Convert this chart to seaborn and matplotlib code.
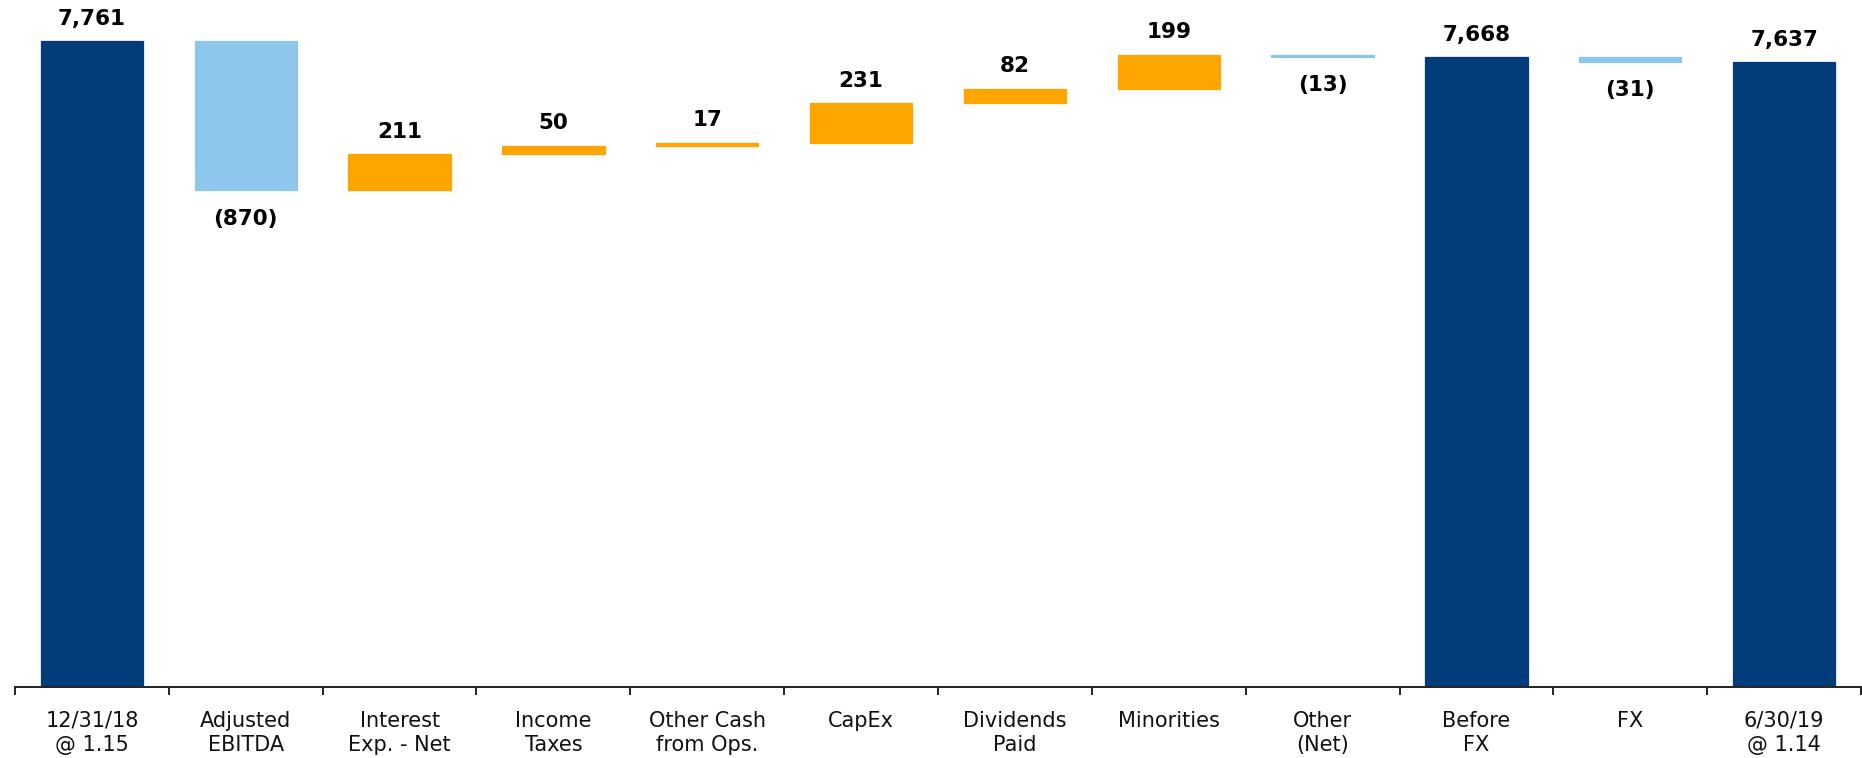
import numpy as np
import matplotlib
matplotlib.use("Agg")
import matplotlib.pyplot as plt
import seaborn as sns

categories = ["12/31/18\n@ 1.15", "Adjusted\nEBITDA", "Interest\nExp. - Net", "Income\nTaxes",
              "Other Cash\nfrom Ops.", "CapEx", "Dividends\nPaid", "Minorities", "Other\n(Net)",
              "Before\nFX", "FX", "6/30/19\n@ 1.14"]
kinds = ["total", "delta", "delta", "delta", "delta", "delta", "delta", "delta", "delta",
         "total", "delta", "total"]
values = [7761, -870, 211, 50, 17, 231, 82, 199, -13, 7668, -31, 7637]

NAVY = "#033C7B"
LIGHT = "#8DC6EA"
ORANGE = "#FFA500"

bottoms, tops = [], []
running = 0
for k, v in zip(kinds, values):
    if k == "total":
        running = v
        bottoms.append(0)
        tops.append(v)
    else:
        lo, hi = sorted([running, running + v])
        bottoms.append(lo)
        tops.append(hi)
        running += v
heights = [t - b for t, b in zip(tops, bottoms)]

sns.set_style("white")
plt.rcParams["font.family"] = ["DejaVu Sans"]

fig = plt.figure(figsize=(18.62, 7.58), dpi=100)
ax = fig.add_axes([15 / 1862, 1 - 687 / 758, (1861 - 15) / 1862, 687 / 758])

sns.barplot(x=list(range(len(categories))), y=heights, bottom=bottoms, color=NAVY,
            width=0.665, linewidth=0, saturation=1, ax=ax)

for p, k, v in zip(ax.patches, kinds, values):
    if k == "total":
        c = NAVY
    elif v < 0:
        c = LIGHT
    else:
        c = ORANGE
    p.set_facecolor(c)
    p.set_edgecolor(c)
    p.set_linewidth(0.9)

for i, (k, v, b, t) in enumerate(zip(kinds, values, bottoms, tops)):
    if k == "total" or v > 0:
        ax.annotate(f"{v:,}", (i, t), xytext=(0, 9), textcoords="offset points",
                    ha="center", va="bottom", fontsize=15.5, fontweight="bold", color="black")
    else:
        ax.annotate(f"({abs(v):,})", (i, b), xytext=(0, -13), textcoords="offset points",
                    ha="center", va="top", fontsize=15.5, fontweight="bold", color="black")

ax.set_ylim(4000, 8000)
ax.set_xlim(-0.5, len(categories) - 0.5)
ax.set_xticks(range(len(categories)))
ax.set_xticklabels(categories, fontsize=15, color="#111111", linespacing=1.25)
ax.set_xticks(np.arange(-0.5, len(categories), 1.0), minor=True)
ax.tick_params(axis="x", which="major", length=0, pad=17)
ax.tick_params(axis="x", which="minor", length=6, width=1.4, color="#222222", direction="out", bottom=True)
ax.set_yticks([])
ax.set_xlabel("")
ax.set_ylabel("")
for s in ["top", "left", "right"]:
    ax.spines[s].set_visible(False)
ax.spines["bottom"].set_color("#222222")
ax.spines["bottom"].set_linewidth(1.4)
ax.spines["bottom"].set_zorder(5)

fig.savefig("out.png", dpi=100)
